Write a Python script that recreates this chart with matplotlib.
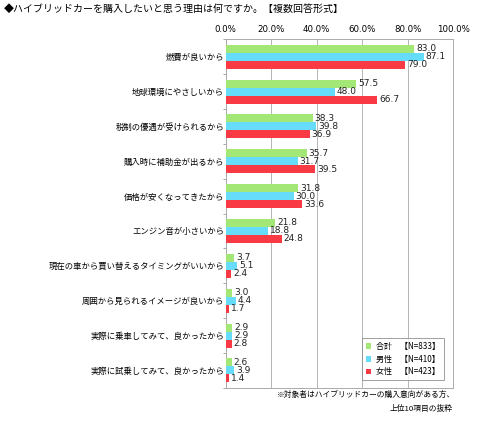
import matplotlib
matplotlib.use("Agg")
import matplotlib.pyplot as plt
import numpy as np

plt.rcParams['font.family'] = ['Noto Sans CJK JP', 'DejaVu Sans']

categories = ["燃費が良いから", "地球環境にやさしいから", "税制の優遇が受けられるから",
              "購入時に補助金が出るから", "価格が安くなってきたから", "エンジン音が小さいから",
              "現在の車から買い替えるタイミングがいいから", "周囲から見られるイメージが良いから",
              "実際に乗車してみて、良かったから", "実際に試乗してみて、良かったから"]
total = [83.0, 57.5, 38.3, 35.7, 31.8, 21.8, 3.7, 3.0, 2.9, 2.6]
male = [87.1, 48.0, 39.8, 31.7, 30.0, 18.8, 5.1, 4.4, 2.9, 3.9]
female = [79.0, 66.7, 36.9, 39.5, 33.6, 24.8, 2.4, 1.7, 2.8, 1.4]
series_names = ["合計　【N=833】", "男性　【N=410】", "女性　【N=423】"]
xticks = [0, 20, 40, 60, 80, 100]
xtick_labels = ["0.0%", "20.0%", "40.0%", "60.0%", "80.0%", "100.0%"]
title = "◆ハイブリッドカーを購入したいと思う理由は何ですか。【複数回答形式】"
note1 = "※対象者はハイブリッドカーの購入意向がある方、"
note2 = "上位10項目の抜粋"

colors = ["#a3e876", "#66dcfa", "#f93a45"]

fig = plt.figure(figsize=(4.79, 4.22), dpi=100)
ax = fig.add_axes([0.471, 0.081, 0.475, 0.826])

n = len(categories)
y = np.arange(n)
h = 0.23
for i, (vals, c, name) in enumerate(zip([total, male, female], colors, series_names)):
    pos = y + (i - 1) * h
    ax.barh(pos, vals, height=h, color=c, label=name, zorder=3)
    for p, v in zip(pos, vals):
        ax.text(v + 0.8, p, f"{v:.1f}", va="center", ha="left", fontsize=6.5,
                family=['DejaVu Sans'], color="#222222", zorder=4)

ax.set_xlim(0, 100)
ax.set_ylim(n - 0.5, -0.5)
ax.xaxis.tick_top()
ax.set_xticks(xticks)
ax.set_xticklabels(xtick_labels, fontsize=6.2, family=['DejaVu Sans'])
ax.tick_params(axis='x', length=0, pad=4)
ax.set_yticks(y)
ax.set_yticklabels(categories, fontsize=6.0)
ax.tick_params(axis='y', length=0, pad=1)
ax.set_yticks(np.arange(n + 1) - 0.5, minor=True)
ax.tick_params(axis='y', which='minor', length=2, color="#999999")
ax.grid(axis='x', color="#aaaaaa", linewidth=0.6, zorder=0)
for s in ax.spines.values():
    s.set_color("#aaaaaa")
    s.set_linewidth(0.7)

leg = ax.legend(loc="lower right", fontsize=5.8, frameon=True, fancybox=False,
                edgecolor="#888888", handlelength=0.7, handleheight=0.7,
                borderpad=0.5, labelspacing=0.45, handletextpad=0.6,
                bbox_to_anchor=(0.978, 0.01))
leg.get_frame().set_linewidth(0.7)

fig.text(0.008, 0.978, title, fontsize=7.2, ha="left", va="center")
fig.text(0.95, 0.064, note1, fontsize=5.6, ha="right", va="center")
fig.text(0.944, 0.030, note2, fontsize=5.6, ha="right", va="center")

fig.savefig("out.png", dpi=100, facecolor="white")
